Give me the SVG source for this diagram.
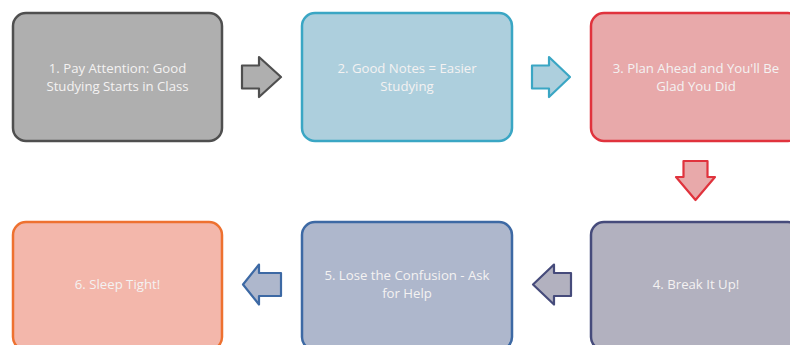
<svg xmlns="http://www.w3.org/2000/svg" width="790" height="345" viewBox="0 0 790 345">
  <style>
    .box { stroke-width: 2.5; }
    .arr { stroke-width: 2.2; stroke-linejoin: round; }
    .lbl { font-family: "Comic Sans MS", "Open Sans", "Liberation Sans", sans-serif; font-size: 13.2px; fill: #f4f2f2; text-anchor: middle; }
    .gray { fill: #afafaf; stroke: #4f4f4f; }
    .teal { fill: #adcfdd; stroke: #3aa6c4; }
    .red { fill: #e8a9aa; stroke: #e0333d; }
    .slate { fill: #b2b1bf; stroke: #464b7b; }
    .blue { fill: #aeb7cc; stroke: #3d69a4; }
    .orange { fill: #f3b7ab; stroke: #ee7130; }
  </style>
  <rect width="790" height="345" fill="#ffffff"/>

  <g id="node1">
    <rect class="box gray" x="13" y="13" width="209" height="128" rx="13"/>
    <text class="lbl" x="117.5" y="73">1. Pay Attention: Good</text>
    <text class="lbl" x="117.5" y="91">Studying Starts in Class</text>
  </g>
  <g id="node2">
    <rect class="box teal" x="302" y="13" width="210" height="128" rx="13"/>
    <text class="lbl" x="407" y="73">2. Good Notes = Easier</text>
    <text class="lbl" x="407" y="91">Studying</text>
  </g>
  <g id="node3">
    <rect class="box red" x="591" y="13" width="210" height="128" rx="13"/>
    <text class="lbl" x="696" y="73">3. Plan Ahead and You'll Be</text>
    <text class="lbl" x="696" y="91">Glad You Did</text>
  </g>
  <g id="node4">
    <rect class="box slate" x="591" y="222" width="210" height="128" rx="13"/>
    <text class="lbl" x="696" y="289">4. Break It Up!</text>
  </g>
  <g id="node5">
    <rect class="box blue" x="302" y="222" width="210" height="128" rx="13"/>
    <text class="lbl" x="407" y="280">5. Lose the Confusion - Ask</text>
    <text class="lbl" x="407" y="298">for Help</text>
  </g>
  <g id="node6">
    <rect class="box orange" x="13" y="222" width="209" height="128" rx="13"/>
    <text class="lbl" x="117.5" y="289">6. Sleep Tight!</text>
  </g>

  <g id="connectors">
    <path class="arr gray" d="M242,65.5 H259 V57 L281,77 L259,97 V88.5 H242 Z"/>
    <path class="arr teal" d="M532,65.5 H549 V57 L570,77 L549,97 V88.5 H532 Z"/>
    <path class="arr red" d="M683.5,161 V177 H676 L695.5,200 L715,177 H707.5 V161 Z"/>
    <path class="arr slate" d="M571,273 H554 V264.5 L533,284.5 L554,304.5 V296 H571 Z"/>
    <path class="arr blue" d="M281,273 H259 V264.5 L243,284.5 L259,304.5 V296 H281 Z"/>
  </g>
</svg>
